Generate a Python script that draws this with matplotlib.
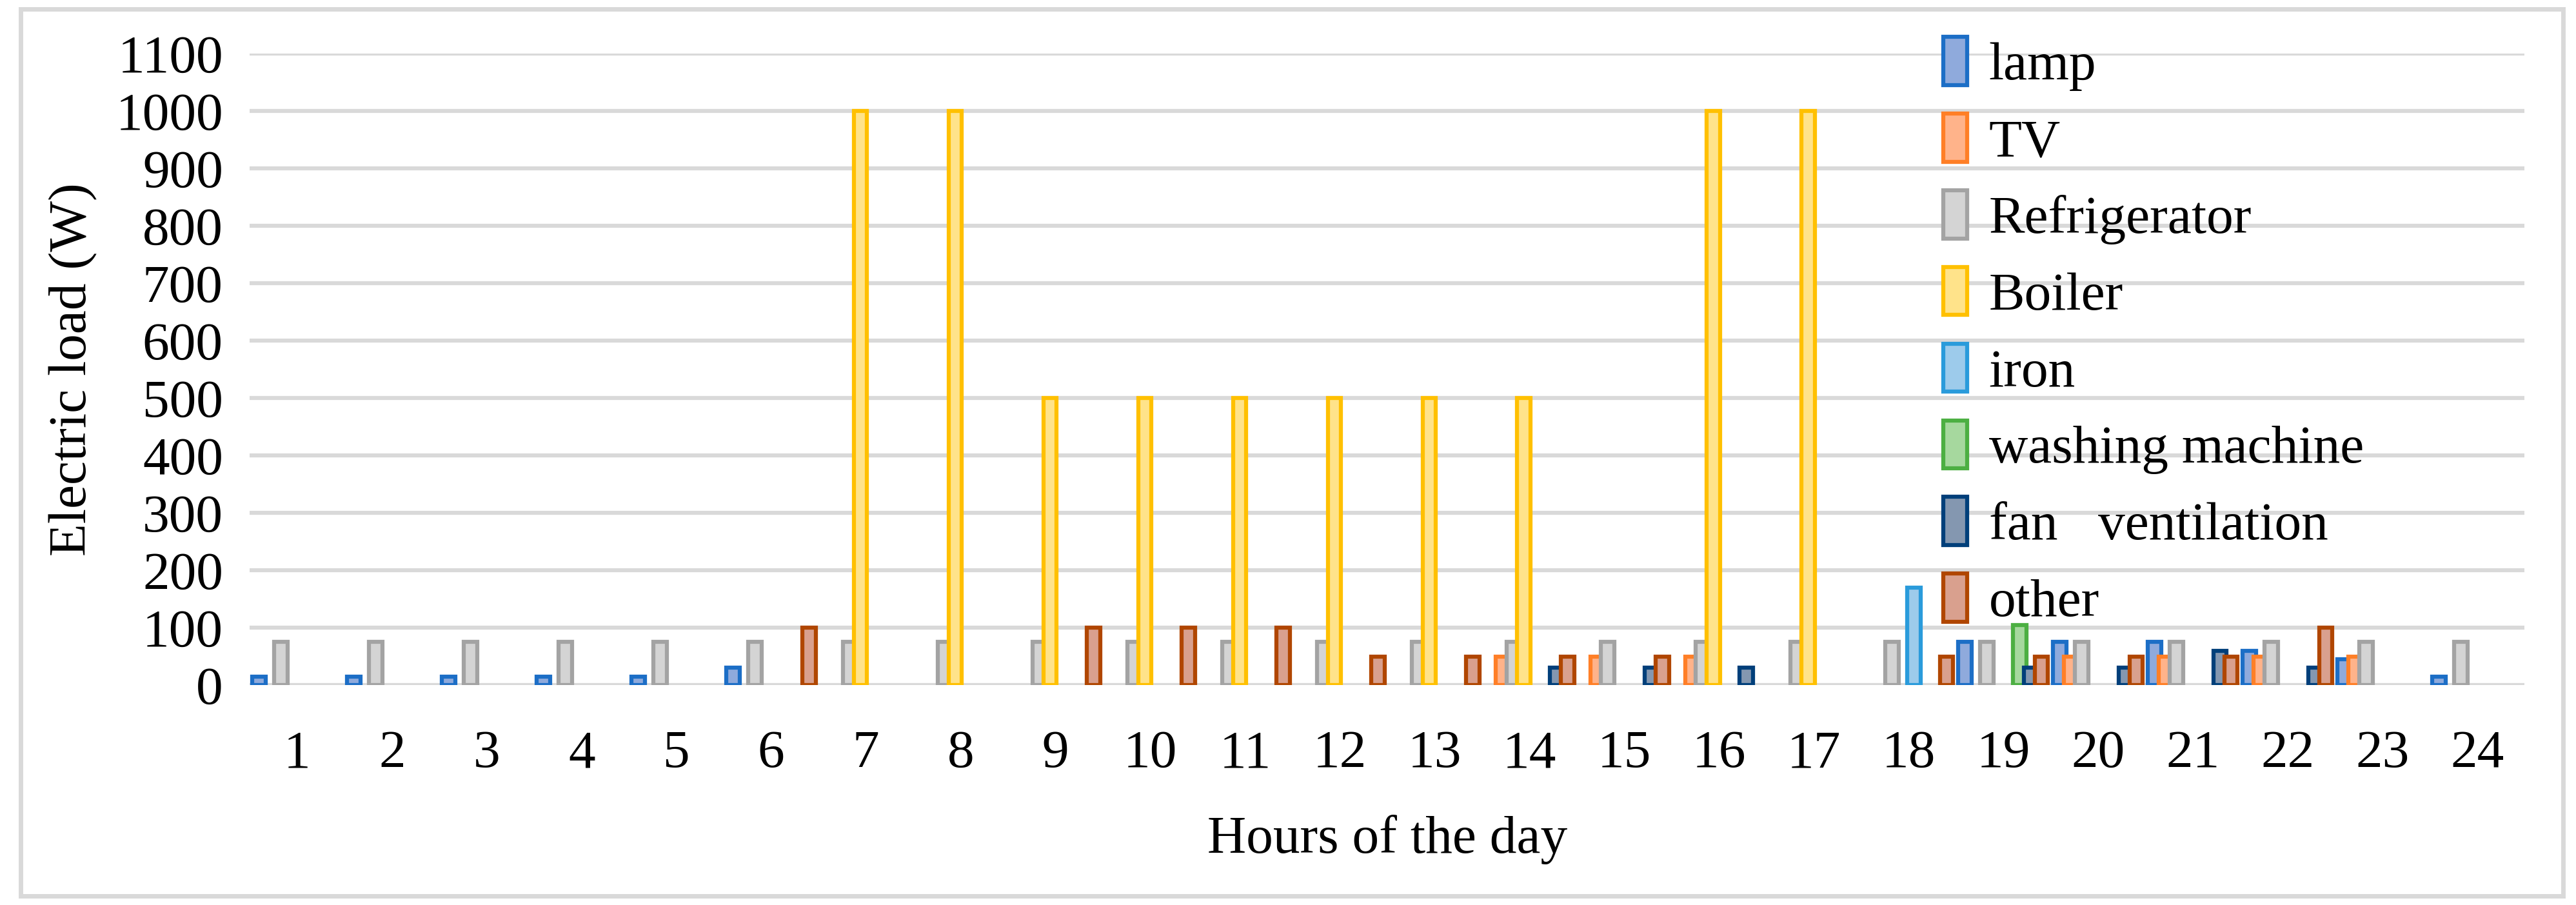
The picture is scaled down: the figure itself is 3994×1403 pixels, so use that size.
import matplotlib
matplotlib.use("Agg")
import matplotlib.pyplot as plt
import numpy as np
from matplotlib.patches import Rectangle

hours = list(range(1, 25))
series_names = ["lamp", "TV", "Refrigerator", "Boiler", "iron", "washing machine", "fan   ventilation", "other"]
lamp = [15,15,15,15,15,30,0,0,0,0,0,0,0,0,0,0,0,0,75,75,75,60,45,15]
tv = [0]*13 + [50,50,50] + [0,0,0] + [50,50,50,50] + [0]
refrigerator = [75]*24
boiler = [0,0,0,0,0,0,1000,1000,500,500,500,500,500,500,0,1000,1000,0,0,0,0,0,0,0]
iron = [0]*17 + [170] + [0]*6
washing = [0]*18 + [105] + [0]*5
fan = [0]*13 + [30,30,30] + [0,0] + [30,30,60,30] + [0,0]
other = [0,0,0,0,0,100,0,0,100,100,100,50,50,50,50,0,0,50,50,50,50,100,0,0]
values = [lamp, tv, refrigerator, boiler, iron, washing, fan, other]
yticks = list(range(0, 1101, 100))

edges = ["#1C6EC6", "#FF7F27", "#A3A3A3", "#FFC000", "#2A9BDB", "#4CAF42", "#003F7A", "#B04600"]
faces = ["#8FAADC", "#FFB38A", "#D4D4D4", "#FFE38A", "#9DCBEB", "#A6D89E", "#8497B0", "#D9A08E"]

plt.rcParams['font.family'] = ['Liberation Serif', 'DejaVu Serif']
fig = plt.figure(figsize=(39.94, 14.03), dpi=100)
ax = fig.add_axes([0.097, 0.243, 0.883, 0.698])
x = np.arange(len(hours))
step = 0.115
w = 0.14
for i, (name, vals) in enumerate(zip(series_names, values)):
    v = np.array(vals, dtype=float)
    v[v == 0] = np.nan
    ax.bar(x + (i - 3.5) * step, v, width=w, color=faces[i], edgecolor=edges[i],
           linewidth=4.5, label=name, zorder=3 + i * 0.01)
ax.set_xlim(-0.5, 23.5)
ax.set_ylim(0, 1100)
ax.set_yticks(yticks)
ax.set_xticks(x)
ax.set_xticklabels([str(h) for h in hours])
ax.tick_params(axis='both', length=0, labelsize=60)
ax.tick_params(axis='x', pad=50)
ax.tick_params(axis='y', pad=30)
ax.grid(axis='y', color='#D9D9D9', linewidth=4.5, zorder=0)
ax.set_axisbelow(True)
for s in ax.spines.values():
    s.set_visible(False)
ax.set_ylabel("Electric load (W)", fontsize=60, labelpad=20)
ax.set_xlabel("Hours of the day", fontsize=60, labelpad=40)
leg = ax.legend(loc='upper left', bbox_to_anchor=(0.735, 1.06), frameon=False, fontsize=60,
                handlelength=0.45, handleheight=1.0, handletextpad=0.4, labelspacing=0.42,
                borderaxespad=0)
leg.set_zorder(10)
fig.patches.append(Rectangle((0.008, 0.01), 0.987, 0.98, transform=fig.transFigure,
                             fill=False, edgecolor='#D9D9D9', linewidth=5))
fig.savefig("out.png", dpi=100)
